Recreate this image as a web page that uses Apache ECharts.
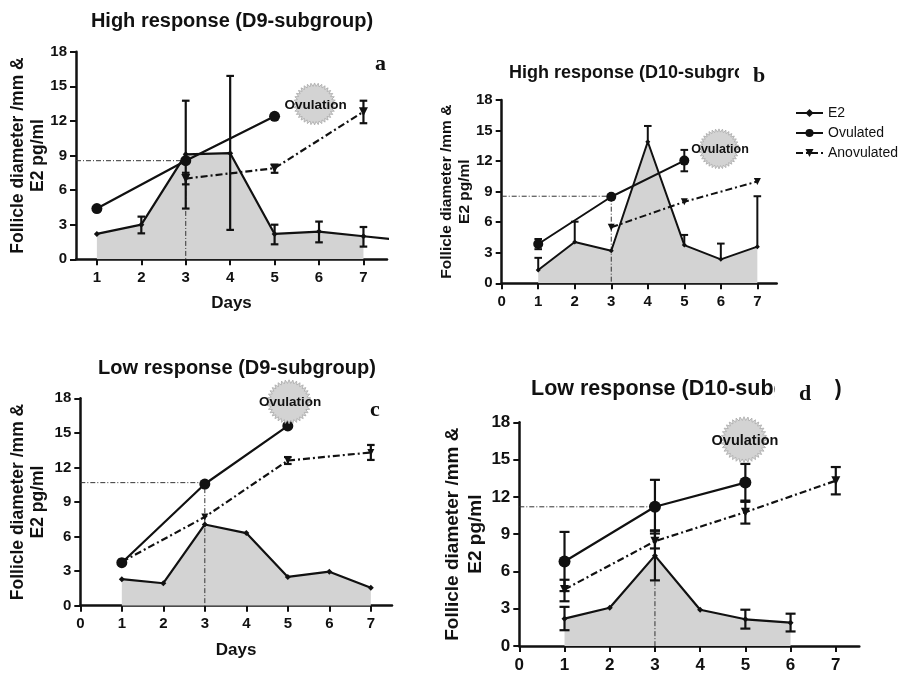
<!DOCTYPE html>
<html><head><meta charset="utf-8">
<style>html,body{margin:0;padding:0;background:#fff}#c{width:898px;height:674px}</style>
<script src="https://cdn.jsdelivr.net/npm/echarts@6/dist/echarts.min.js"></script>
</head><body><div id="c"></div>
<script>
// ---- Data (day, value) and error bars (day, low, high) ----
const tickDays = [1,2,3,4,5,6,7];
const seriesNames = ['E2','Ovulated','Anovulated'];
const yAxisName = 'Follicle diameter /mm &\nE2 pg/ml';

const aTitle = 'High response (D9-subgroup)';
const aE2 = [[1,2.2],[2,3.0],[3,9.1],[4,9.2],[5,2.2],[6,2.4],[7,2.0],[8,1.6]];
const aOvulated = [[1,4.4],[3,8.55],[5,12.4]];
const aAnovulated = [[3,7.0],[5,7.9],[7,12.8]];
const aE2Err = [[2,2.25,3.7],[3,4.4,13.75],[4,2.55,15.9],[5,1.3,3.0],[6,1.47,3.27],[7,1.1,2.8]];
const aOvulatedErr = [];
const aAnovulatedErr = [[3,6.5,7.5],[5,7.5,8.2],[7,11.8,13.75]];
const aRef = [[0.53,8.55],[3,8.55],[3,0]];
const aBadge = [[5.9,13.47]];

const bTitle = 'High response (D10-subgroup)';
const bE2 = [[1,1.3],[2,4.05],[3,3.2],[4,13.9],[5,3.75],[6,2.35],[7,3.6]];
const bOvulated = [[1,3.86],[3,8.5],[5,12.05]];
const bAnovulated = [[3,5.5],[5,8.0],[7,10.0]];
const bE2Err = [[1,1.3,2.5],[2,4.05,6.05],[4,13.9,15.45],[5,3.75,4.75],[6,2.35,3.9],[7,3.6,8.55]];
const bOvulatedErr = [[1,3.35,4.35],[5,11.0,13.1]];
const bAnovulatedErr = [];
const bRef = [[0,8.55],[3,8.55],[3,0]];
const bBadge = [[5.95,13.2]];

const cTitle = 'Low response (D9-subgroup)';
const cE2 = [[1,2.3],[2,1.95],[3,7.05],[4,6.3],[5,2.5],[6,2.95],[7,1.55]];
const cOvulated = [[1,3.73],[3,10.56],[5,15.6]];
const cAnovulated = [[1,3.8],[3,7.7],[5,12.6],[7,13.3]];
const cE2Err = [];
const cOvulatedErr = [];
const cAnovulatedErr = [[5,12.3,12.9],[7,12.65,13.95]];
const cRef = [[0,10.68],[3,10.68],[3,0]];
const cBadge = [[5.03,17.7]];

const dTitle = 'Low response (D10-subgroup)';
const dE2 = [[1,2.2],[2,3.08],[3,7.27],[4,2.92],[5,2.15],[6,1.88]];
const dOvulated = [[1,6.8],[3,11.2],[5,13.15]];
const dAnovulated = [[1,4.55],[3,8.43],[5,10.77],[7,13.3]];
const dE2Err = [[1,1.27,3.15],[3,5.28,9.27],[5,1.4,2.92],[6,1.17,2.6]];
const dOvulatedErr = [[1,4.42,9.18],[3,9.05,13.37],[5,11.6,14.65]];
const dAnovulatedErr = [[1,3.6,5.33],[3,7.85,9.3],[5,9.85,11.7],[7,12.2,14.4]];
const dRef = [[0,11.2],[3,11.2],[3,0]];
const dBadge = [[4.97,16.6]];

// ---- Panel layout and styling ----
const panels = [
 {e2:aE2,ov:aOvulated,an:aAnovulated,e2Err:aE2Err,ovErr:aOvulatedErr,anErr:aAnovulatedErr,ref:aRef,badge:aBadge,
  box:[76,51.7,387,259.3],xMin:0.53,xMax:7.53,days:true,nameSize:17.5,gap:28,tick:15,lh:20,
  badgeR:21,badgeFont:13.5,ovSize:11,e2Size:6,anSize:9,upperOnly:false,lw:2.2},
 {e2:bE2,ov:bOvulated,an:bAnovulated,e2Err:bE2Err,ovErr:bOvulatedErr,anErr:bAnovulatedErr,ref:bRef,badge:bBadge,
  box:[501.7,100,776.7,283.3],xMin:0,xMax:7.53,days:false,nameSize:15.5,gap:28,tick:15,lh:18,
  badgeR:20,badgeFont:12.5,ovSize:10,e2Size:5,anSize:7,upperOnly:true,lw:2},
 {e2:cE2,ov:cOvulated,an:cAnovulated,e2Err:cE2Err,ovErr:cOvulatedErr,anErr:cAnovulatedErr,ref:cRef,badge:cBadge,
  box:[80.3,398.3,392,605.7],xMin:0,xMax:7.51,days:true,nameSize:17.5,gap:32,tick:15,lh:20,
  badgeR:22,badgeFont:13.5,ovSize:11,e2Size:6,anSize:7,upperOnly:false,lw:2.2},
 {e2:dE2,ov:dOvulated,an:dAnovulated,e2Err:dE2Err,ovErr:dOvulatedErr,anErr:dAnovulatedErr,ref:dRef,badge:dBadge,
  box:[519.3,422.3,859.3,648.7],xMin:0,xMax:7.52,days:false,nameSize:19,gap:32,tick:17,lh:23,
  badgeR:23,badgeFont:14.5,ovSize:12,e2Size:6,anSize:9,upperOnly:false,lw:2.2}
];
const FONT = '"Liberation Sans", Arial, sans-serif';
const INK = '#111';

function errRender(capW, lw, upperOnly){
  return function(params, api){
    const x = api.value(0), lo = api.coord([x, api.value(1)]), hi = api.coord([x, api.value(2)]);
    const st = {stroke:INK, lineWidth:lw, fill:null};
    const kids = [
      {type:'line',shape:{x1:hi[0],y1:hi[1],x2:lo[0],y2:lo[1]},style:st},
      {type:'line',shape:{x1:hi[0]-capW,y1:hi[1],x2:hi[0]+capW,y2:hi[1]},style:st}
    ];
    if(!upperOnly) kids.push({type:'line',shape:{x1:lo[0]-capW,y1:lo[1],x2:lo[0]+capW,y2:lo[1]},style:st});
    return {type:'group',children:kids};
  };
}
function badgeRender(r, font){
  return function(params, api){
    const c = api.coord([api.value(0), api.value(1)]);
    const pts = [], n = 36;
    for(let i=0;i<n*2;i++){
      const a = Math.PI*i/n, R = i%2 ? r*0.84 : r;
      pts.push([c[0]+R*Math.cos(a), c[1]+R*Math.sin(a)]);
    }
    return {type:'group',children:[
      {type:'polygon',shape:{points:pts},style:{fill:'#d3d3d3',stroke:'#a8a8a8',lineWidth:0.8}},
      {type:'text',style:{x:c[0]+1,y:c[1]+1,text:'Ovulation',fill:INK,align:'center',verticalAlign:'middle',
        font:'bold '+font+'px "Liberation Sans", Arial, sans-serif'}}
    ]};
  };
}

const grid=[], xAxis=[], yAxis=[], series=[];
panels.forEach((p,i)=>{
  const [l,t,r,b] = p.box;
  grid.push({left:l,top:t,width:r-l,height:b-t,containLabel:false});
  const label = {color:INK,fontFamily:FONT,fontWeight:'bold',fontSize:p.tick};
  const line = {show:true,onZero:false,lineStyle:{color:INK,width:2.5}};
  const xVals = p.xMin===0?[0].concat(tickDays):tickDays;
  xAxis.push({gridIndex:i,type:'value',min:p.xMin,max:p.xMax,splitLine:{show:false},
    axisLine:line,
    axisTick:{show:true,length:6,lineStyle:{color:INK,width:2},customValues:xVals},
    axisLabel:Object.assign({margin:11,customValues:xVals},label),
    name:p.days?'Days':'',nameLocation:'middle',nameGap:36,
    nameTextStyle:{color:INK,fontFamily:FONT,fontWeight:'bold',fontSize:17}});
  yAxis.push({gridIndex:i,type:'value',min:0,max:18,interval:3,splitLine:{show:false},
    axisLine:line,axisTick:{show:true,length:6,lineStyle:{color:INK,width:2}},
    axisLabel:Object.assign({margin:9},label),
    name:yAxisName,nameLocation:'middle',nameRotate:90,nameGap:p.gap,nameMoveOverlap:false,
    nameTextStyle:{color:INK,fontFamily:FONT,fontWeight:'bold',fontSize:p.nameSize,lineHeight:p.lh,align:'center'}});
  const ax = {xAxisIndex:i,yAxisIndex:i,animation:false,silent:true};
  series.push(Object.assign({type:'line',name:'E2 area',data:p.e2.filter(d=>d[0]<=7),symbol:'none',
    lineStyle:{width:0},areaStyle:{color:'#d3d3d3',opacity:1},z:1},ax));
  series.push(Object.assign({type:'line',name:'Reference',data:p.ref,symbol:'none',
    lineStyle:{color:'#333',width:1,type:[5,2,1,2]},z:2},ax));
  [p.e2Err,p.ovErr,p.anErr].forEach((errs,k)=>{
    series.push(Object.assign({type:'custom',name:'err'+k,data:errs,encode:{x:0,y:[1,2]},
      renderItem:errRender(p.tick>=17?5:3.8,p.lw,p.upperOnly&&k===0),z:3},ax));
  });
  series.push(Object.assign({type:'line',name:seriesNames[0],data:p.e2,symbol:'diamond',symbolSize:p.e2Size,
    lineStyle:{color:INK,width:p.lw},itemStyle:{color:INK},z:4},ax));
  series.push(Object.assign({type:'line',name:seriesNames[1],data:p.ov,symbol:'circle',symbolSize:p.ovSize,
    lineStyle:{color:INK,width:p.lw},itemStyle:{color:INK},z:4},ax));
  series.push(Object.assign({type:'line',name:seriesNames[2],data:p.an,symbol:'triangle',symbolRotate:180,symbolSize:p.anSize,
    lineStyle:{color:INK,width:p.lw,type:[7,3,2,3]},itemStyle:{color:INK},z:4},ax));
  series.push(Object.assign({type:'custom',name:'badge',data:p.badge,encode:{x:0,y:1},clip:false,
    renderItem:badgeRender(p.badgeR,p.badgeFont),z:5},ax));
});

const titleText=(size)=>({color:INK,fontFamily:FONT,fontWeight:'bold',fontSize:size});
const letter=(size)=>({color:INK,fontFamily:'"Liberation Serif", serif',fontWeight:'bold',fontSize:size});
const option = {
  animation:false,
  backgroundColor:'#fff',
  title:[
    {text:aTitle,left:232,top:11,textAlign:'center',textStyle:titleText(20),padding:0},
    {text:bTitle,left:509,top:64,textStyle:titleText(18),padding:0},
    {text:cTitle,left:237,top:358,textAlign:'center',textStyle:titleText(20),padding:0},
    {text:dTitle,left:531,top:378,textStyle:titleText(21.5),padding:0},
    {text:'a',left:375,top:53,textStyle:letter(22),padding:0,z:10},
    {text:'b',left:739,top:62,textStyle:letter(22),padding:[3,12,2,14],backgroundColor:'#fff',z:10},
    {text:'c',left:370,top:399,textStyle:letter(22),padding:0,z:10},
    {text:'d',left:775,top:377,textStyle:letter(22),padding:[6,24,6,24],backgroundColor:'#fff',z:10}
  ],
  legend:{data:seriesNames,orient:'vertical',left:795,top:106,padding:0,itemWidth:27,itemHeight:10,itemGap:6,
    selectedMode:false,textStyle:{color:INK,fontFamily:FONT,fontSize:14}},
  grid,xAxis,yAxis,series
};
echarts.init(document.getElementById('c'),null,{renderer:'canvas'}).setOption(option);
</script></body></html>
